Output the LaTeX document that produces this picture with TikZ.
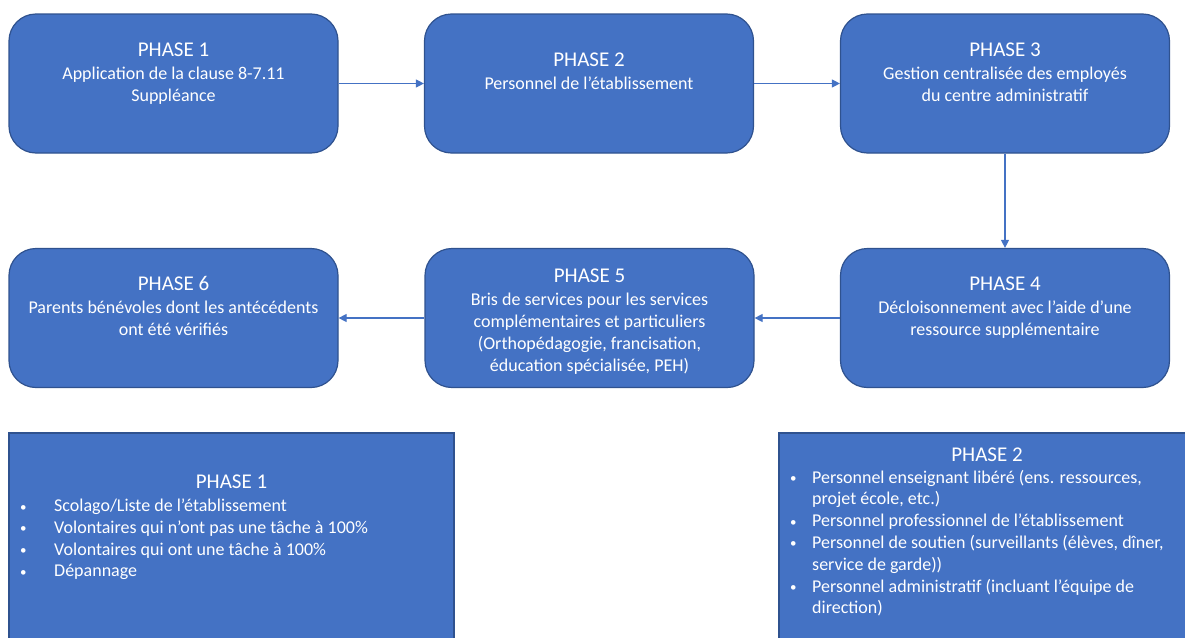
\documentclass[tikz,border=0pt]{standalone}
\usepackage{fontspec}
\setmainfont{Carlito}
\usetikzlibrary{arrows.meta}
\definecolor{boxfill}{HTML}{4472C4}
\definecolor{boxline}{HTML}{2F528F}
\definecolor{arrowcol}{HTML}{4472C4}
\newcommand{\smbul}{\raisebox{0.5pt}{\fontsize{13}{13}\selectfont •}}
\begin{document}
\begin{tikzpicture}[x=1pt,y=-1pt,
  phasebox/.style={draw=boxline,line width=1.2pt,fill=boxfill,rounded corners=27pt,
    minimum width=329pt,minimum height=139pt,inner sep=0pt},
  listbox/.style={draw=boxline,line width=1.2pt,fill=boxfill,inner sep=0pt},
  titletext/.style={text=white,anchor=base,inner sep=0pt,font=\fontsize{21}{25}\selectfont},
  bodytext/.style={text=white,anchor=base,inner sep=0pt,align=center,font=\fontsize{18}{22}\selectfont},
  listtext/.style={text=white,anchor=base west,inner sep=0pt,align=left,font=\fontsize{18}{21.8}\selectfont},
  flow/.style={draw=arrowcol,line width=1.2pt,-{Triangle[length=8pt,width=8pt]}}]
\useasboundingbox (0,0) rectangle (1185,637);
% boxes
\node[phasebox] (b1) at (173.5,83.5) {};
\node[phasebox] (b2) at (589,83.5) {};
\node[phasebox] (b3) at (1005,83.5) {};
\node[phasebox] (b6) at (173.5,318) {};
\node[phasebox] (b5) at (589.5,318) {};
\node[phasebox] (b4) at (1005,318) {};
% texts (multi-line nodes: base = last line's baseline)
\node[titletext] (t1) at (173.5,56) {PHASE 1};
\node[bodytext] (d1) at (173.5,101) {Application de la clause 8-7.11\\Suppléance};
\node[titletext] (t2) at (589,66.7) {PHASE 2};
\node[bodytext] (d2) at (589,89) {Personnel de l’établissement};
\node[titletext] (t3) at (1005,56) {PHASE 3};
\node[bodytext] (d3) at (1005,101) {Gestion centralisée des employés\\du centre administratif};
\node[titletext] (t4) at (1005,290.7) {PHASE 4};
\node[bodytext] (d4) at (1005,335) {Décloisonnement avec l’aide d’une\\ressource supplémentaire};
\node[titletext] (t5) at (589.5,282.3) {PHASE 5};
\node[bodytext] (d5) at (589.5,371) {Bris de services pour les services\\complémentaires et particuliers\\(Orthopédagogie, francisation,\\éducation spécialisée, PEH)};
\node[titletext] (t6) at (173.5,290.7) {PHASE 6};
\node[bodytext] (d6) at (173.5,335) {Parents bénévoles dont les antécédents\\ont été vérifiés};
% connectors
\draw[flow] (b1.east) -- (b2.west);
\draw[flow] (b2.east) -- (b3.west);
\draw[flow] (b3.south) -- (b4.north);
\draw[flow] (b4.west) -- (b5.east);
\draw[flow] (b5.west) -- (b6.east);
% bottom list boxes
\node[listbox,minimum width=445pt,minimum height=220pt] (l1) at (231.5,543) {};
\node[listbox,minimum width=416pt,minimum height=220pt] (l2) at (987,543) {};
\node[titletext] (lt1) at (231.5,488) {PHASE 1};
\node[listtext] (lb1) at (20,576.9) {\smbul\\\smbul\\\smbul\\\smbul};
\node[listtext] (lx1) at (54,576.9) {Scolago/Liste de l’établissement\\Volontaires qui n’ont pas une tâche à 100\%\\Volontaires qui ont une tâche à 100\%\\Dépannage};
\node[titletext] (lt2) at (987,461) {PHASE 2};
\node[listtext] (lb2) at (790,613.8) {\smbul\\\mbox{}\\\smbul\\\smbul\\\mbox{}\\\smbul\\\mbox{}};
\node[listtext] (lx2) at (812,613.8) {Personnel enseignant libéré (ens. ressources,\\projet école, etc.)\\Personnel professionnel de l’établissement\\Personnel de soutien (surveillants (élèves, dîner,\\service de garde))\\Personnel administratif (incluant l’équipe de\\direction)};
\end{tikzpicture}
\end{document}
